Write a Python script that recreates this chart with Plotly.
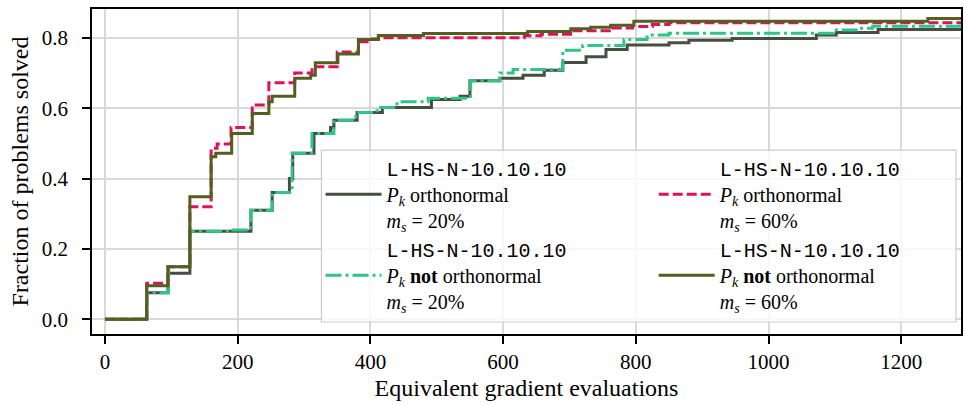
import plotly.graph_objects as go

# ---- data ----
a_x = [0, 63, 95, 128, 220, 252, 278, 283, 315, 340, 345, 380, 418, 492, 535, 550, 595, 630, 662, 690,
       725, 755, 787, 850, 880, 945, 1072, 1102, 1165, 1300]
a_y = [0, 0.075, 0.131, 0.25, 0.31, 0.36, 0.40, 0.472, 0.528, 0.545, 0.566, 0.588, 0.602, 0.625, 0.634,
       0.678, 0.685, 0.694, 0.708, 0.730, 0.746, 0.767, 0.780, 0.786, 0.793, 0.798, 0.808, 0.815, 0.824, 0.824]

b_x = [0, 63, 95, 128, 160, 169, 190, 222, 247, 286, 312, 350, 382, 395, 412, 632, 657, 705, 760, 795,
       825, 850, 1300]
b_y = [0, 0.102, 0.149, 0.32, 0.486, 0.498, 0.545, 0.609, 0.672, 0.70, 0.718, 0.76, 0.789, 0.797, 0.80,
       0.806, 0.81, 0.82, 0.828, 0.832, 0.838, 0.843, 0.843]

c_x = [0, 63, 96, 128, 190, 220, 252, 282, 312, 345, 378, 410, 440, 487, 551, 595, 615, 690, 720, 782,
       817, 850, 1097, 1132, 1157, 1300]
c_y = [0, 0.075, 0.149, 0.25, 0.254, 0.31, 0.36, 0.472, 0.528, 0.566, 0.588, 0.602, 0.618, 0.628, 0.678,
       0.70, 0.71, 0.765, 0.778, 0.795, 0.808, 0.813, 0.822, 0.827, 0.833, 0.833]

d_x = [0, 63, 95, 128, 160, 167, 191, 222, 247, 252, 286, 310, 317, 351, 382, 412, 480, 637, 702, 732,
       762, 797, 1240, 1300]
d_y = [0, 0.095, 0.149, 0.348, 0.462, 0.472, 0.528, 0.585, 0.618, 0.634, 0.685, 0.694, 0.729, 0.754,
       0.795, 0.807, 0.812, 0.818, 0.826, 0.830, 0.836, 0.847, 0.855, 0.855]

x_ticks = [0, 200, 400, 600, 800, 1000, 1200]
y_ticks = [0.0, 0.2, 0.4, 0.6, 0.8]

MONO = '<span style="font-family:Liberation Mono">L-HS-N-10.10.10</span>'
PK = '<i>P</i><sub><i>k</i></sub>'
MS = '<i>m</i><sub><i>s</i></sub>'
names = [
    f'{MONO}<br>{PK} orthonormal<br>{MS} = 20%',
    f'{MONO}<br>{PK} orthonormal<br>{MS} = 60%',
    f'{MONO}<br>{PK} <b>not</b> orthonormal<br>{MS} = 20%',
    f'{MONO}<br>{PK} <b>not</b> orthonormal<br>{MS} = 60%',
]

series = [
    (a_x, a_y, '#484d41', 'solid', 'legend'),
    (b_x, b_y, '#de115a', '10px,4px', 'legend2'),
    (c_x, c_y, '#2fc488', '16px,4px,3px,4px', 'legend'),
    (d_x, d_y, '#535e1f', 'solid', 'legend2'),
]

fig = go.Figure()
for (xs, ys, col, dash, lg), nm in zip(series, names):
    fig.add_trace(go.Scatter(x=xs, y=ys, mode='lines', name=nm, legend=lg,
                             line=dict(color=col, width=3, dash=dash, shape='hv')))

SERIF = 'Liberation Serif'
leg_common = dict(
    orientation='v', yanchor='top', y=0.57, xanchor='left',
    traceorder='normal', itemwidth=56, tracegroupgap=0,
    bgcolor='rgba(0,0,0,0)', borderwidth=0,
    font=dict(family=SERIF, size=20, color='black'),
)
fig.update_layout(
    width=964, height=405,
    margin=dict(l=92, r=1, t=9, b=71),
    paper_bgcolor='white', plot_bgcolor='white',
    font=dict(family=SERIF, size=21, color='black'),
    showlegend=True,
    legend=dict(x=0.263, **leg_common),
    legend2=dict(x=0.6464, **leg_common),
    shapes=[dict(type='rect', xref='paper', yref='paper', x0=0.264, x1=0.9943, y0=0.0369, y1=0.566,
                 fillcolor='rgba(255,255,255,0.8)', line=dict(color='#cccccc', width=1.2), layer='above')],
)
fig.update_xaxes(
    range=[-19.5, 1290], tickvals=x_ticks, ticktext=[str(v) for v in x_ticks],
    showgrid=True, gridcolor='#d9d9d9', gridwidth=1.5, zeroline=False,
    showline=True, linecolor='black', linewidth=1.8, mirror=True,
    ticks='outside', ticklen=8, tickwidth=1.6, tickcolor='black',
    tickfont=dict(family=SERIF, size=21),
    title=dict(text='Equivalent gradient evaluations', font=dict(family=SERIF, size=24), standoff=6),
)
fig.update_yaxes(
    range=[-0.042, 0.882], tickvals=y_ticks, ticktext=[f'{v:.1f}' for v in y_ticks],
    showgrid=True, gridcolor='#d9d9d9', gridwidth=1.5, zeroline=False,
    showline=True, linecolor='black', linewidth=1.8, mirror=True,
    ticks='outside', ticklen=8, tickwidth=1.6, tickcolor='black',
    ticklabelstandoff=10,
    tickfont=dict(family=SERIF, size=21),
    title=dict(text='Fraction of problems solved', font=dict(family=SERIF, size=24), standoff=6),
)

fig.write_html('out.html')
